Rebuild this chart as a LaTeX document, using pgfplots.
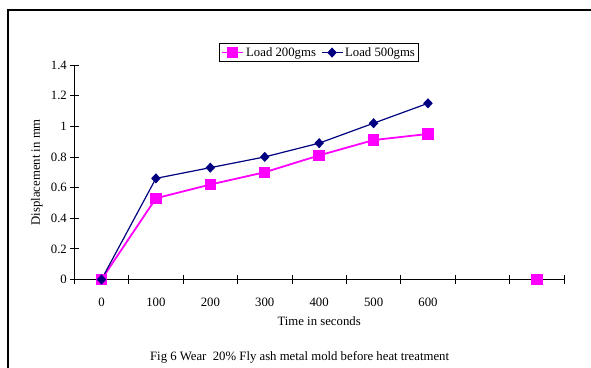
\documentclass[border=0pt]{standalone}
\usepackage{pgfplots}
\pgfplotsset{compat=1.18}
\usepackage{fontspec}
\setmainfont{Liberation Serif}
\definecolor{loadpink}{RGB}{255,0,255}
\definecolor{loadnavy}{RGB}{0,0,128}

\begin{document}
\fontsize{12.8}{15}\selectfont
\begin{tikzpicture}[x=1bp,y=1bp]
\useasboundingbox (0,0) rectangle (591,367);
% outer chart frame
\begin{scope}
  \clip (0,0) rectangle (591,367);
  \draw[line width=2bp] (7.5,-10) rectangle (610,357);
\end{scope}
\begin{axis}[
  at={(74.3bp,87.5bp)}, anchor=south west,
  scale only axis, width=489.7bp, height=214.5bp,
  xmin=-0.5, xmax=8.5, ymin=0, ymax=1.4,
  axis lines*=left,
  axis line style={black, line width=0.8bp},
  tick align=center,
  xtick={0,1,2,3,4,5,6},
  xticklabels={0,100,200,300,400,500,600},
  minor xtick={-0.5,0.5,1.5,2.5,3.5,4.5,5.5,6.5,7.5,8.5},
  major tick length=9bp, minor tick length=9bp,
  x tick style={draw=none},
  minor x tick style={draw=black, line width=0.8bp},
  y tick style={black, line width=0.8bp},
  ytick={0,0.2,0.4,0.6,0.8,1,1.2,1.4},
  yticklabels={0,0.2,0.4,0.6,0.8,1,1.2,1.4},
  xticklabel style={anchor=center, yshift=-18.5bp},
  yticklabel style={anchor=east, xshift=1.5bp},
  tick label style={font=\fontsize{12.8}{15}\selectfont},
  xlabel={Time in seconds},
  ylabel={Displacement in mm},
  xlabel style={at={(axis description cs:0.5,-0.1935)}, anchor=center},
  ylabel style={at={(axis description cs:-0.0768,0.5)}, anchor=center},
  label style={font=\fontsize{12.8}{15}\selectfont},
  unbounded coords=jump,
  clip=false,
  legend columns=2,
  legend style={at={(axis description cs:0.5,1.058)}, anchor=center,
    draw=black, line width=0.8bp, inner sep=1.5bp,
    font=\fontsize{12.8}{15}\selectfont,
    /tikz/every even column/.append style={column sep=3bp}},
  legend image code/.code={%
    \draw[mark repeat=2, mark phase=2] plot coordinates {(0bp,0bp) (10.5bp,0bp) (21bp,0bp)};},
]
\addplot[loadpink, line width=1.8bp, mark=square*, mark size=4.8bp,
  mark options={solid, fill=loadpink, draw=loadpink}]
  coordinates {(0,0) (1,0.53) (2,0.62) (3,0.70) (4,0.81) (5,0.91) (6,0.95) (7,nan) (8,0)};
\addlegendentry{Load 200gms}
\addplot[loadnavy, line width=1.2bp, mark=diamond*, mark size=4.2bp,
  mark options={solid, fill=loadnavy, draw=loadnavy, xscale=1.25}]
  coordinates {(0,0) (1,0.66) (2,0.73) (3,0.80) (4,0.89) (5,1.02) (6,1.15)};
\addlegendentry{Load 500gms}
\end{axis}
\node at (299.6,10) {Fig 6 Wear\ \ 20\% Fly ash metal mold before heat treatment};
\end{tikzpicture}
\end{document}
